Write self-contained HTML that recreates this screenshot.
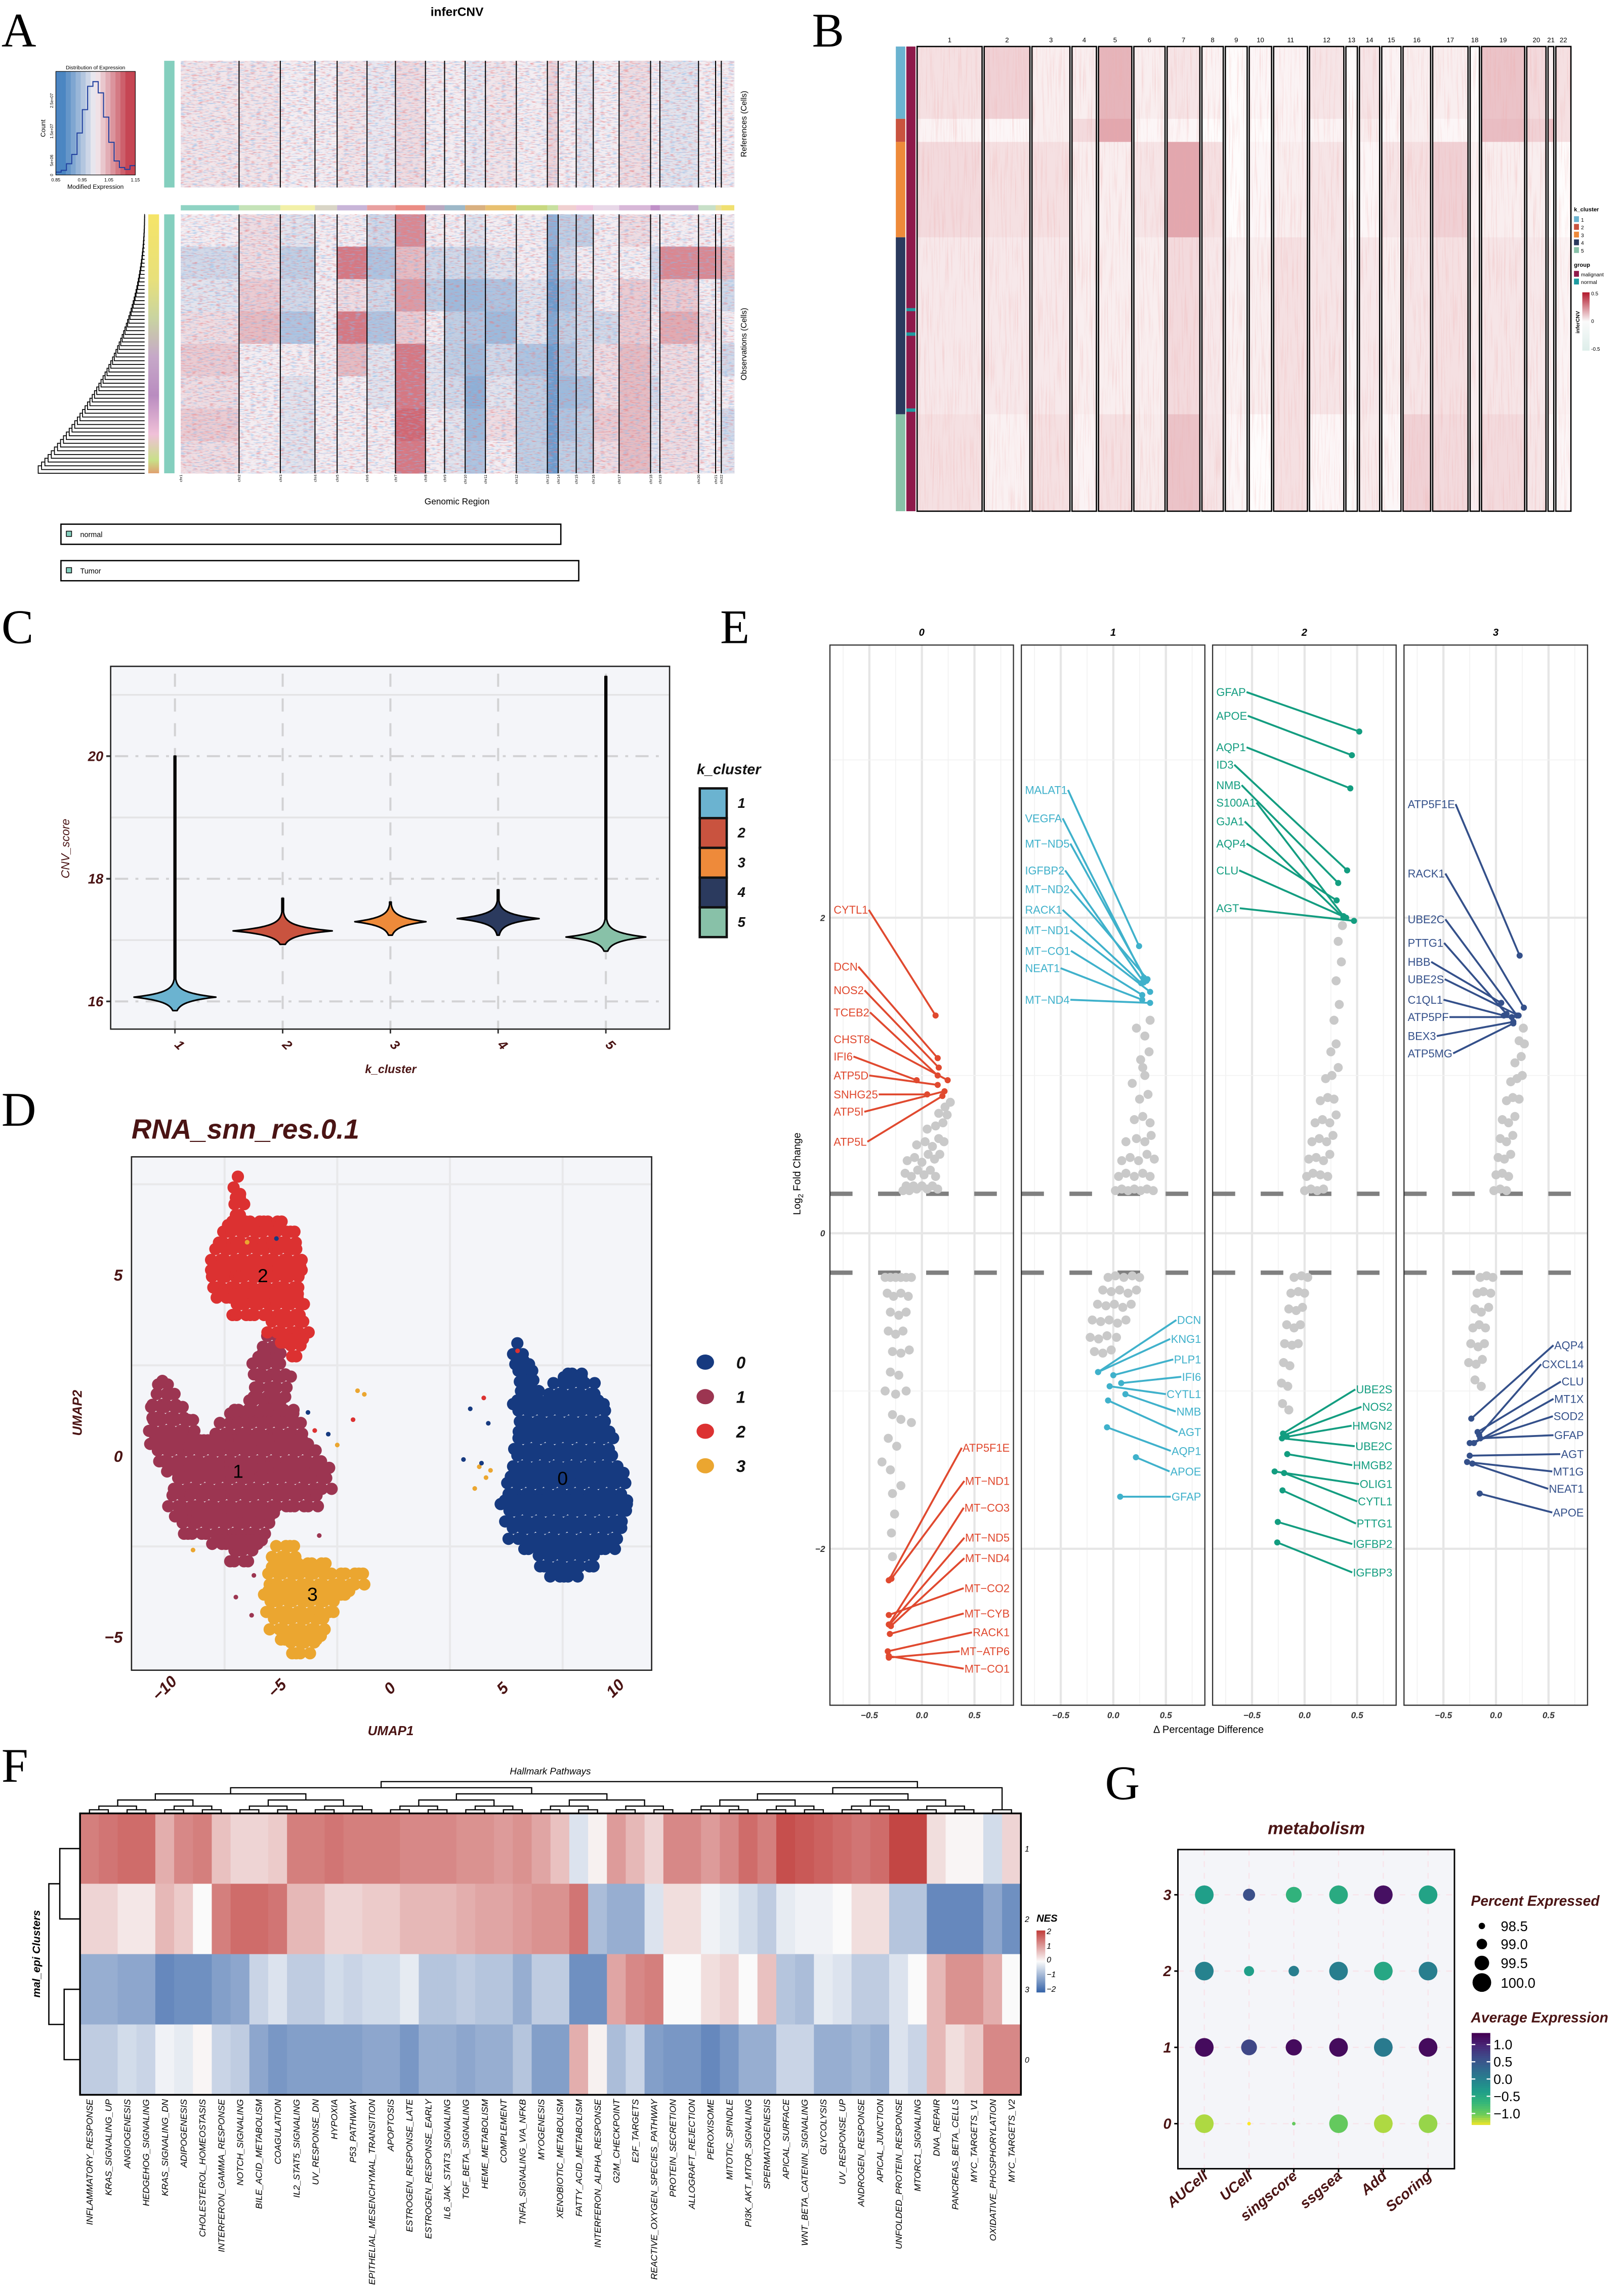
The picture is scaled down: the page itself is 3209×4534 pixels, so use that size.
<!DOCTYPE html>
<html><head><meta charset="utf-8">
<style>
html,body{margin:0;padding:0;background:#fff;}
svg{display:block;font-family:"Liberation Sans",sans-serif;}
.pl{font-family:"Liberation Serif",serif;font-size:33px;fill:#000;}
</style></head>
<body>
<svg id="fig" width="3209" height="4534" viewBox="0 0 1114 1574" xmlns="http://www.w3.org/2000/svg">
<defs>
<filter id="noiseA" x="0" y="0" width="100%" height="100%">
<feTurbulence type="fractalNoise" baseFrequency="0.25 1.1" numOctaves="2" seed="3" result="n"/>
<feColorMatrix in="n" type="matrix" values="0 0 0 0 0.78  0 0 0 0 0.2  0 0 0 0 0.22  3.5 0 0 0 -1.8" result="r"/>
<feColorMatrix in="n" type="matrix" values="0 0 0 0 0.25  0 0 0 0 0.5  0 0 0 0 0.82  0 3.5 0 0 -1.8" result="b"/>
<feMerge><feMergeNode in="r"/><feMergeNode in="b"/></feMerge>
</filter>
<filter id="noiseB" x="0" y="0" width="100%" height="100%">
<feTurbulence type="fractalNoise" baseFrequency="0.9 0.03" numOctaves="2" seed="7" result="n"/>
<feColorMatrix in="n" type="matrix" values="0 0 0 0 0.85  0 0 0 0 0.4  0 0 0 0 0.4  2.5 0 0 0 -1.2"/>
</filter>
</defs>
<rect x="0" y="0" width="1114" height="1574" fill="#fff"/>
<text class="pl" x="1" y="32">A</text>
<text class="pl" x="557" y="32">B</text>
<text class="pl" x="1" y="441">C</text>
<text class="pl" x="494" y="441">E</text>
<text class="pl" x="1" y="772">D</text>
<text class="pl" x="1" y="1222">F</text>
<text class="pl" x="758" y="1234">G</text>
</svg>
<script>
const NS='http://www.w3.org/2000/svg';
const svg=document.getElementById('fig');
function mk(p,tag,a,t){const e=document.createElementNS(NS,tag);for(const k in a)e.setAttribute(k,a[k]);if(t!==undefined)e.textContent=t;p.appendChild(e);return e;}
function grp(parent,name){const g=mk(parent,'g',{});


return g;}
const BROWN='#4A1414';
function chrNameA(i){return 'chr'+(i+1);}

/* ================= PANEL A DATA ================= */
const chrGenesA=[1000,708,595,380,513,488,515,328,353,348,530,533,185,310,293,443,540,160,663,293,98,223];
const refBand=[0.05,0.05,0,0,0.05,-0.05,0.1,0,0,-0.05,0.05,0,0.15,0,-0.05,0,0.1,0,-0.1,0,0,0];
const obsBands=[
[0,0.1,-0.1,0,0,-0.2,0.6,0,0,-0.1,0,0,-0.6,-0.3,-0.3,0,0.1,0,0,0,0,0],
[-0.2,0.1,-0.3,0,0.7,-0.4,0.3,-0.2,-0.2,-0.3,-0.1,0,-0.7,-0.2,0,0,0,-0.2,0.6,0.6,0.5,0.3],
[-0.1,0.2,-0.2,0,0.1,-0.2,0.5,-0.3,-0.5,-0.5,-0.4,-0.1,-0.8,-0.4,-0.2,0,0.2,-0.1,0.2,0,0,-0.2],
[0.1,0.3,-0.4,0,0.7,-0.4,0.2,0,-0.3,-0.4,-0.5,-0.1,-0.7,-0.3,-0.2,-0.2,0.2,0,0.4,0.1,0,0],
[0.2,0,0,0,0.3,-0.1,0.7,-0.1,-0.3,-0.5,-0.2,-0.4,-0.8,-0.4,-0.2,0.1,0.3,-0.1,0.1,0,0,-0.2],
[0.1,0,-0.1,0,0,-0.1,0.7,-0.1,-0.2,-0.6,-0.1,-0.3,-0.8,-0.5,-0.4,0.1,0.3,-0.2,0.1,0,0,0],
[0.2,0,-0.1,0,0,0,0.8,0,-0.1,-0.5,0.1,-0.3,-0.8,-0.4,-0.3,0.2,0.3,-0.1,0.1,0,0,-0.2],
[0.1,0,-0.1,0,0,0,0.7,0,-0.1,-0.4,0,-0.3,-0.8,-0.3,-0.3,0.1,0.3,-0.1,0.1,0,0,-0.1]];
const histBins=[0.85,0.87,0.89,0.91,0.93,0.95,0.97,0.99,1.01,1.03,1.05,1.07,1.09,1.11,1.13];
const histCounts=[0.03,0.05,0.12,0.22,0.45,0.7,0.95,1.0,0.88,0.62,0.35,0.15,0.08,0.06,0.1];
const chrBarColors=['#8FD3C3','#C5E3B8','#F2F0A8','#D9D5C6','#C8B5D8','#E8A0A0','#EB8C84','#B8A8C0','#9DB8C8','#D9B080','#E8C070','#C8D880','#C8E0A0','#F0D0D0','#F0C8E0','#E8D8E8','#D8B8D8','#C090C8','#C8B0D0','#C8E0C8','#E8E0A0','#F0E070'];

/* ================= PANEL A ================= */
(function(){
const g=grp(svg,'panel-a-infercnv');
const x0=124,x1=503.7;
const tot=chrGenesA.reduce((a,b)=>a+b,0);
const cx=i=>{let c=0;for(let k=0;k<i;k++)c+=chrGenesA[k];return x0+c/tot*(x1-x0);};
function div(v){v=Math.max(-1,Math.min(1,v));const w=[244,238,242],r=[190,40,55],b=[45,115,185];const t=Math.abs(v)*0.85;const c=v>=0?r:b;return 'rgb('+w.map((x,i)=>Math.round(x+(c[i]-x)*t)).join(',')+')';}
const t=mk(g,'text',{x:313.5,y:11,'text-anchor':'middle','font-size':8.5,'font-weight':'bold'},'inferCNV');


const ref=grp(g,'references-heatmap');
refBand.forEach((v,i)=>{const r=mk(ref,'rect',{x:cx(i),y:41.7,width:cx(i+1)-cx(i)+0.2,height:86.9,fill:div(v)});

});
const rn=mk(ref,'rect',{x:x0,y:41.7,width:x1-x0,height:86.9,fill:'#fff',filter:'url(#noiseA)',opacity:0.6});


const obs=grp(g,'observations-heatmap');
const oy0=147,oy1=324.6,bh=(oy1-oy0)/obsBands.length;
obsBands.forEach((row,b)=>row.forEach((v,i)=>{const r=mk(obs,'rect',{x:cx(i),y:oy0+b*bh,width:cx(i+1)-cx(i)+0.2,height:bh+0.2,fill:div(v)});

}));
const on=mk(obs,'rect',{x:x0,y:oy0,width:x1-x0,height:oy1-oy0,fill:'#fff',filter:'url(#noiseA)',opacity:0.6});


for(let i=0;i<22;i++){const r=mk(g,'rect',{x:cx(i),y:140.7,width:cx(i+1)-cx(i),height:3.6,fill:chrBarColors[i]});


if(i>0){[[41.7,128.6],[147,324.6]].forEach(s=>{const l=mk(g,'line',{x1:cx(i),x2:cx(i),y1:s[0],y2:s[1],stroke:'#000','stroke-width':0.7});

});}
const tl=mk(g,'text',{x:0,y:0,'font-size':2.6,'text-anchor':'end',transform:`translate(${cx(i)+1},325.5) rotate(-90)`},chrNameA(i));

}
const tb1=mk(g,'rect',{x:112.6,y:41.7,width:7.1,height:86.9,fill:'#84CFBE'});


const tb2=mk(g,'rect',{x:112.6,y:147,width:7.1,height:177.6,fill:'#84CFBE'});


const lg=mk(svg.querySelector('defs'),'linearGradient',{id:'gradDend',x1:0,y1:0,x2:0,y2:1});
[['0','#F5E468'],['0.25','#E8E07A'],['0.4','#C9D4A0'],['0.55','#C6A8C8'],['0.7','#B98CC0'],['0.85','#F0C0D8'],['0.95','#C8E088'],['1','#E0A070']].forEach(s=>mk(lg,'stop',{offset:s[0],'stop-color':s[1]}));
const gb=mk(g,'rect',{x:101.7,y:147,width:7.4,height:177.6,fill:'url(#gradDend)'});


const dg=grp(g,'observation-dendrogram');
const n=70;let yc=147,xp=99.2;
for(let k=1;k<n;k++){const yl=147+k*(177.6/(n-1));const xk=99.2-73*Math.pow(k/(n-1),2.2);
mk(dg,'path',{d:`M${xp},${yc}H${xk}V${yl}H99.2`,fill:'none',stroke:'#000','stroke-width':0.6});
yc=(yc+yl)/2;xp=xk;}
mk(dg,'line',{x1:25.9,x2:xp,y1:yc,y2:yc,stroke:'#000','stroke-width':0.6});
const kg=grp(g,'color-key');
for(let i=0;i<16;i++){const v=-1+i*2/15;mk(kg,'rect',{x:38.3+i*54.5/16,y:49,width:54.5/16+0.1,height:71,fill:div(v*1.15)});}
let d='';histCounts.forEach((c,i)=>{const xa=38.3+(histBins[i]-0.85)/0.3*54.5, xb=xa+54.5*0.02/0.3, y=120-c*64;d+=(i?'L':'M')+xa+','+y+'H'+xb;});
const hp=mk(kg,'path',{d:d,fill:'none',stroke:'#1F3E9E','stroke-width':0.7});


mk(kg,'rect',{x:38.3,y:49,width:54.5,height:71,fill:'none',stroke:'#000','stroke-width':0.4});
mk(kg,'text',{x:65.5,y:47.5,'font-size':3.6,'text-anchor':'middle'},'Distribution of Expression');
['0.85','0.95','1.05','1.15'].forEach((s,i)=>mk(kg,'text',{x:38.3+i*18.17,y:124.5,'font-size':3.2,'text-anchor':'middle'},s));
mk(kg,'text',{x:65.5,y:129.5,'font-size':4.3,'text-anchor':'middle'},'Modified Expression');
mk(kg,'text',{x:0,y:0,'font-size':4.5,'text-anchor':'middle',transform:'translate(31,88) rotate(-90)'},'Count');
[['0',120],['5e+06',110],['1.5e+07',90],['2.5e+07',69]].forEach(s=>mk(kg,'text',{x:0,y:0,'font-size':2.8,'text-anchor':'middle',transform:`translate(36.5,${s[1]}) rotate(-90)`},s[0]));
const gr=mk(g,'text',{x:313.5,y:346,'font-size':6,'text-anchor':'middle'},'Genomic Region');


const r1=mk(g,'text',{x:0,y:0,'font-size':5.5,'text-anchor':'middle',transform:'translate(512,85) rotate(-90)'},'References (Cells)');


const r2=mk(g,'text',{x:0,y:0,'font-size':5.5,'text-anchor':'middle',transform:'translate(512,236) rotate(-90)'},'Observations (Cells)');


[['normal',359.5,384.7],['Tumor',384.5,397]].forEach(s=>{const lgp=grp(g,'legend-'+s[0].toLowerCase());
mk(lgp,'rect',{x:41.8,y:s[1],width:s[2]-41.8,height:13.8,fill:'none',stroke:'#000','stroke-width':0.9});
mk(lgp,'rect',{x:45.5,y:s[1]+4.8,width:3.6,height:3.6,fill:'#84CFBE',stroke:'#000','stroke-width':0.5});
mk(lgp,'text',{x:55,y:s[1]+8.8,'font-size':5},s[0]);});
})();

/* ================= PANEL B DATA ================= */
const chrGenesB=[1000,704,584,376,512,480,504,328,336,344,520,528,176,312,296,424,544,144,664,296,88,232];
const clusterCells=[470,150,620,1150,630];
const normalCellRanges=[[1700,1720],[1858,1880],[2352,2374]];
const bBands=[
[0.1,0.15,0.05,0.05,0.25,0.05,0.08,0.03,0,0.02,0.03,0.08,0,0.08,0.03,0.05,0.05,0,0.2,0.12,0.05,0.1],
[0.03,0.02,0.05,0.12,0.3,0.02,0.02,0,0,0,0.03,0.03,0,0.05,0.02,0.05,0.02,0,0.22,0.15,0.2,0.1],
[0.12,0.1,0.1,0.05,0.05,0.08,0.3,0.1,0,0.02,0.05,0.08,0,0.02,0.08,0.1,0.15,0.03,0.05,0.05,0,0],
[0.07,0.07,0.07,0.05,0.05,0.05,0.12,0.07,0.04,0.05,0.1,0.08,0.02,0.07,0.05,0.08,0.1,0.05,0.08,0.07,0.03,0.03],
[0.1,0.04,0.1,0.03,0.1,0.06,0.2,0.08,0.02,0,0.1,0.02,0,0.06,0.02,0.15,0.12,0.05,0.12,0.08,0,0.02]];
const kColors=['#6BB3D0','#C9533F','#EE8A3A','#2B3A5E','#88C1A8'];

/* ================= PANEL B ================= */
(function(){
const g=grp(svg,'panel-b-cnv-heatmap');
const X0=629.1,X1=1077.6,gap=1.42,Y0=31.9,Y1=350.6;
const tot=chrGenesB.reduce((a,b)=>a+b,0);const avail=X1-X0-gap*21;
const bx=i=>{let c=0;for(let k=0;k<i;k++)c+=chrGenesB[k];return X0+c/tot*avail+i*gap;};
const bw=i=>chrGenesB[i]/tot*avail;
const totC=clusterCells.reduce((a,b)=>a+b,0);
const cy=c=>Y0+c/totC*(Y1-Y0);
const red=v=>{const t=Math.max(0,Math.min(1,v/0.8));return `rgb(${Math.round(254-(254-178)*t)},${Math.round(252-(252-24)*t)},${Math.round(252-(252-43)*t)})`;};
let acc=0;
clusterCells.forEach((n,c)=>{const ya=cy(acc),yb=cy(acc+n);
const kb=mk(g,'rect',{x:614.5,y:ya,width:6.5,height:yb-ya,fill:kColors[c]});


for(let i=0;i<22;i++){const r=mk(g,'rect',{x:bx(i),y:ya,width:bw(i),height:yb-ya+0.1,fill:red(bBands[c][i])});

}
acc+=n;});
const grpBar=mk(g,'rect',{x:621.7,y:Y0,width:6.3,height:Y1-Y0,fill:'#8E1A4B'});


normalCellRanges.forEach(r=>{const e=mk(g,'rect',{x:621.7,y:cy(r[0]),width:6.3,height:cy(r[1])-cy(r[0]),fill:'#1E9BA0'});

});
for(let i=0;i<22;i++){const tx=mk(g,'rect',{x:bx(i),y:Y0,width:bw(i),height:Y1-Y0,fill:'#fff',filter:'url(#noiseB)',opacity:0.35});


const bo=mk(g,'rect',{x:bx(i),y:Y0,width:bw(i),height:Y1-Y0,fill:'none',stroke:'#000','stroke-width':0.9});


const l=mk(g,'text',{x:bx(i)+bw(i)/2,y:29,'font-size':4.6,'text-anchor':'middle'},String(i+1));

}
const lg=grp(g,'b-legend');
mk(lg,'text',{x:1079.7,y:145,'font-size':3.9,'font-weight':'bold'},'k_cluster');
kColors.forEach((c,i)=>{mk(lg,'rect',{x:1079.7,y:148.3+i*5.3,width:3.4,height:4,fill:c});mk(lg,'text',{x:1084.5,y:152+i*5.3,'font-size':3.6},String(i+1));});
mk(lg,'text',{x:1079.7,y:183,'font-size':3.9,'font-weight':'bold'},'group');
mk(lg,'rect',{x:1079.7,y:185.8,width:3.4,height:4,fill:'#8E1A4B'});mk(lg,'text',{x:1084.5,y:189.5,'font-size':3.6},'malignant');
mk(lg,'rect',{x:1079.7,y:191.1,width:3.4,height:4,fill:'#1E9BA0'});mk(lg,'text',{x:1084.5,y:194.8,'font-size':3.6},'normal');
const gd=mk(svg.querySelector('defs'),'linearGradient',{id:'gradB',x1:0,y1:0,x2:0,y2:1});
[['0','#B2182B'],['0.5','#FAFAFA'],['1','#DDEEEA']].forEach(s=>mk(gd,'stop',{offset:s[0],'stop-color':s[1]}));
mk(lg,'rect',{x:1085.4,y:200.5,width:5,height:40,fill:'url(#gradB)'});
[['0.5',202.5],['0',221.5],['-0.5',240.5]].forEach(s=>mk(lg,'text',{x:1091.5,y:s[1],'font-size':3.5},s[0]));
mk(lg,'text',{x:0,y:0,'font-size':3.6,'font-weight':'bold','text-anchor':'middle',transform:'translate(1083.5,221) rotate(-90)'},'inferCNV');
})();

/* ================= PANEL C DATA ================= */
const cnvClusters=['1','2','3','4','5'];
const cnvMedian=[16.07,17.15,17.3,17.35,17.05];
const cnvMin=[15.85,16.93,17.08,17.08,16.82];
const cnvMax=[20.0,17.68,17.62,17.82,21.3];
const cnvPeakWidth=[0.38,0.46,0.33,0.38,0.37];
const cnvTicks=[16,18,20];

/* ================= PANEL C ================= */
(function(){
const g=grp(svg,'panel-c-cnv-violin');
const L=75.9,R=459.3,T=457,B=705.8;
const ys=v=>686.8-(v-16)*42.05;
const xs=i=>120+i*73.9;
const bg=mk(g,'rect',{x:L,y:T,width:R-L,height:B-T,fill:'#F4F5F9'});


const gg=grp(g,'gridlines');
[17,19,21].forEach(v=>mk(gg,'line',{x1:L,x2:R,y1:ys(v),y2:ys(v),stroke:'#E4E4E6','stroke-width':1.2}));
cnvTicks.forEach(v=>mk(gg,'line',{x1:L+3,x2:R-3,y1:ys(v),y2:ys(v),stroke:'#D2D2D4','stroke-width':1.4,'stroke-dasharray':'9 5 2 5'}));
cnvClusters.forEach((c,i)=>mk(gg,'line',{x1:xs(i),x2:xs(i),y1:T+5,y2:B,stroke:'#D2D2D4','stroke-width':1.4,'stroke-dasharray':'9 8'}));
cnvClusters.forEach((c,i)=>{
 const m=cnvMedian[i],s=0.075,W=cnvPeakWidth[i]*73.9;const right=[],left=[];
 for(let y=cnvMin[i];y<=cnvMax[i]+1e-9;y+=0.005){const w=Math.max(0.55,W*Math.exp(-Math.abs(y-m)/s));right.push([xs(i)+w,ys(y)]);left.unshift([xs(i)-w,ys(y)]);}
 const pts=right.concat(left).map(p=>p[0].toFixed(2)+','+p[1].toFixed(2)).join(' ');
 const v=mk(g,'polygon',{points:pts,fill:kColors[i],stroke:'#000','stroke-width':1.1,'stroke-linejoin':'round'});
 
 
 mk(g,'line',{x1:xs(i),x2:xs(i),y1:B,y2:B+3,stroke:'#333','stroke-width':1});
 const tl=mk(g,'text',{x:0,y:0,'font-size':9,'font-weight':'bold','font-style':'italic',fill:BROWN,'text-anchor':'middle',transform:`translate(${xs(i)+1},${B+13}) rotate(45)`},c);
 
 
});
cnvTicks.forEach(v=>{mk(g,'line',{x1:L-3,x2:L,y1:ys(v),y2:ys(v),stroke:'#333','stroke-width':1.2});
 const t=mk(g,'text',{x:L-5,y:ys(v)+3.3,'font-size':9.5,'font-weight':'bold','font-style':'italic',fill:BROWN,'text-anchor':'end'},String(v));
 
 });
mk(g,'rect',{x:L,y:T,width:R-L,height:B-T,fill:'none',stroke:'#222','stroke-width':0.9});
const xt=mk(g,'text',{x:268,y:736,'font-size':8,'font-weight':'bold','font-style':'italic',fill:BROWN,'text-anchor':'middle'},'k_cluster');


const yt=mk(g,'text',{x:0,y:0,'font-size':8,'font-style':'italic',fill:BROWN,'text-anchor':'middle',transform:'translate(47.5,582) rotate(-90)'},'CNV_score');


const lg=grp(g,'legend-k-cluster');
mk(lg,'text',{x:478,y:531,'font-size':10,'font-weight':'bold','font-style':'italic',fill:'#111'},'k_cluster');
kColors.forEach((c,i)=>{mk(lg,'rect',{x:480,y:540.7+i*20.4,width:18.5,height:20.4,fill:c,stroke:'#111','stroke-width':1.6});
mk(lg,'text',{x:506,y:554+i*20.4,'font-size':9.5,'font-weight':'bold','font-style':'italic',fill:'#111'},String(i+1));});
})();

/* ================= PANEL D DATA ================= */
const umapClusters=['0','1','2','3'];
const umapColors=['#163A80','#9C3551','#DC3131','#EBA630'];
const cluster0Rows=[[3.0,5.4,5.7],[2.6,5.4,6.0],[2.2,5.5,6.2],[2.2,7.6,8.5],[1.9,5.6,6.5],[1.9,7.0,9.0],[1.5,5.3,9.3],[1.1,5.5,9.5],[0.7,5.6,9.6],[0.3,5.3,9.7],[-0.1,5.4,9.9],[-0.5,5.2,10.2],[-0.9,5.0,10.3],[-1.3,4.8,10.5],[-1.7,4.9,10.4],[-2.1,5.2,10.2],[-2.5,5.8,9.8],[-2.9,6.4,9.0],[-3.3,7.0,8.2]];
const cluster1Rows=[[3.2,-5.7,-5.1],[2.8,-6.0,-4.9],[2.4,-6.3,-4.8],[2.0,-10.4,-10.0],[2.0,-6.2,-4.6],[1.6,-10.6,-9.6],[1.6,-6.4,-4.8],[1.2,-10.8,-9.2],[1.2,-7.2,-4.4],[0.8,-10.9,-8.8],[0.8,-7.8,-3.9],[0.4,-10.8,-3.7],[0.0,-10.5,-3.2],[-0.4,-10.0,-2.8],[-0.8,-9.8,-2.8],[-1.2,-9.9,-3.3],[-1.6,-9.7,-5.3],[-2.0,-9.4,-5.6],[-2.4,-8.0,-5.8],[-2.8,-7.3,-6.3]];
const cluster2Rows=[[7.6,-7.0,-6.8],[7.2,-7.0,-6.7],[6.8,-7.1,-6.6],[6.4,-7.3,-4.9],[6.0,-7.8,-4.3],[5.6,-8.0,-4.0],[5.2,-8.1,-4.0],[4.8,-8.1,-4.1],[4.4,-7.8,-4.1],[4.0,-7.2,-3.9],[3.6,-5.5,-3.8],[3.2,-5.0,-3.9],[2.9,-4.6,-4.1]];
const cluster3Rows=[[-2.6,-5.3,-4.2],[-3.0,-5.4,-3.0],[-3.4,-5.6,-1.2],[-3.8,-5.7,-1.8],[-4.2,-5.7,-2.6],[-4.6,-5.4,-2.9],[-5.0,-5.0,-3.1],[-5.3,-4.6,-3.5]];
const umapOutliers=[[-1.6,1.8,3],[-1.3,1.7,3],[-6.5,5.9,3],[-5.2,6.0,0],[3.8,-0.3,3],[4.1,-0.6,3],[4.3,-0.4,3],[3.6,-0.9,3],[5.5,2.9,2],[4.0,1.6,2],[-3.8,1.2,0],[-2.9,0.6,0],[-2.5,0.3,3],[-1.8,1.0,2],[3.1,-0.1,0],[3.4,1.3,0],[-3.5,0.7,2],[4.2,0.9,0],[3.9,-0.2,0],[-6.2,-3.3,1],[-7.0,-3.9,1],[-6.3,-4.4,1],[-8.9,-2.6,3],[-3.3,-2.2,1]];
const umapLabelPos=[[7.5,-0.6],[-6.9,-0.4],[-5.8,5.0],[-3.6,-3.8]];
const umapXTicks=[-10,-5,0,5,10];
const umapYTicks=[-5,0,5];

/* ================= PANEL D ================= */
(function(){
const g=grp(svg,'panel-d-umap');
const L=90.2,R=447,T=793.4,B=1145.5;
const xs=v=>115.4+(v+10)*15.46;
const ys=v=>998.5-v*24.84;
const bg=mk(g,'rect',{x:L,y:T,width:R-L,height:B-T,fill:'#F4F5F9'});


const gg=grp(g,'gridlines');
[-7.5,-2.5,2.5,7.5].forEach(v=>mk(gg,'line',{x1:xs(v),x2:xs(v),y1:T,y2:B,stroke:'#E8E8EA','stroke-width':1.4}));
[-2.5,2.5,7.5].forEach(v=>mk(gg,'line',{x1:L,x2:R,y1:ys(v),y2:ys(v),stroke:'#E8E8EA','stroke-width':1.4}));
const title=mk(g,'text',{x:90.2,y:781,'font-size':19,'font-weight':'bold','font-style':'italic',fill:BROWN},'RNA_snn_res.0.1');


const rowsets=[cluster0Rows,cluster1Rows,cluster2Rows,cluster3Rows];
rowsets.forEach((rows,c)=>{const cg=grp(g,'umap-cluster-'+c);
 rows.forEach((row,ri)=>{[-0.11,0.11].forEach((off,si)=>{let j=0;for(let x=row[1]+(si?0.14:0);x<=row[2]+1e-9;x+=0.28){const jx=(((ri*7+j*3+si)%5)-2)*0.05,jy=(((ri*3+j*5+si*2)%5)-2)*0.04;
  const p=mk(cg,'circle',{cx:xs(x+jx),cy:ys(row[0]+off+jy),r:4.2,fill:umapColors[c]});
  
  j++;}});});});
umapOutliers.forEach(o=>{const p=mk(g,'circle',{cx:xs(o[0]),cy:ys(o[1]),r:1.6,fill:umapColors[o[2]]});
 
 });
umapLabelPos.forEach((p,i)=>{const t=mk(g,'text',{x:xs(p[0]),y:ys(p[1])+5,'font-size':13,'text-anchor':'middle',fill:'#000'},umapClusters[i]);
 
 });
mk(g,'rect',{x:L,y:T,width:R-L,height:B-T,fill:'none',stroke:'#222','stroke-width':0.9});
umapXTicks.forEach(v=>{const t=mk(g,'text',{x:0,y:0,'font-size':11,'font-weight':'bold','font-style':'italic',fill:BROWN,'text-anchor':'middle',transform:`translate(${xs(v)},${B+15}) rotate(-45)`},String(v).replace('-','\u2212'));
 
 });
umapYTicks.forEach(v=>{const t=mk(g,'text',{x:L-6,y:ys(v)+4,'font-size':11,'font-weight':'bold','font-style':'italic',fill:BROWN,'text-anchor':'end'},String(v).replace('-','\u2212'));
 
 });
const xt=mk(g,'text',{x:268,y:1190,'font-size':9,'font-weight':'bold','font-style':'italic',fill:BROWN,'text-anchor':'middle'},'UMAP1');


const yt=mk(g,'text',{x:0,y:0,'font-size':9,'font-weight':'bold','font-style':'italic',fill:BROWN,'text-anchor':'middle',transform:'translate(56,969) rotate(-90)'},'UMAP2');


const lg=grp(g,'umap-legend');
umapClusters.forEach((c,i)=>{mk(lg,'ellipse',{cx:483.8,cy:934.2+i*23.7,rx:6,ry:5.2,fill:umapColors[i]});
mk(lg,'text',{x:505,y:938.5+i*23.7,'font-size':11.5,'font-weight':'bold','font-style':'italic',fill:'#111'},c);});
})();

/* ================= PANEL E DATA ================= */
const facetNames=['0','1','2','3'];
const facetColors=['#E0492F','#3FB1CB','#139D80','#34508A'];
const upGenes=[
['CYTL1','DCN','NOS2','TCEB2','CHST8','IFI6','ATP5D','SNHG25','ATP5I','ATP5L'],
['MALAT1','VEGFA','MT\u2212ND5','IGFBP2','MT\u2212ND2','RACK1','MT\u2212ND1','MT\u2212CO1','NEAT1','MT\u2212ND4'],
['GFAP','APOE','AQP1','ID3','NMB','S100A1','GJA1','AQP4','CLU','AGT'],
['ATP5F1E','RACK1','UBE2C','PTTG1','HBB','UBE2S','C1QL1','ATP5PF','BEX3','ATP5MG']];
const upPct=[[0.13,0.15,0.16,0.15,0.245,-0.05,0.15,0.05,0.215,0.195],[0.245,0.29,0.315,0.29,0.325,0.265,0.35,0.275,0.275,0.35],[0.52,0.45,0.435,0.405,0.32,0.37,0.37,0.305,0.395,0.47],[0.225,0.265,0.2,0.1,0.05,0.215,0.075,0.15,0.165,0.165]];
const upFC=[[1.38,1.11,1.05,1.0,0.97,0.97,0.94,0.88,0.9,0.87],[1.82,1.62,1.6,1.59,1.61,1.585,1.53,1.51,1.48,1.46],[3.18,3.03,2.82,2.3,2.22,2.01,2.0,2.11,2.0,1.98],[1.76,1.43,1.38,1.39,1.46,1.38,1.38,1.37,1.34,1.33]];
const upLabelFC=[[2.05,1.69,1.54,1.40,1.23,1.12,1.0,0.88,0.77,0.58],[2.81,2.63,2.47,2.30,2.18,2.05,1.92,1.79,1.68,1.48],[3.43,3.28,3.08,2.97,2.84,2.73,2.61,2.47,2.30,2.06],[2.72,2.28,1.99,1.84,1.72,1.61,1.48,1.37,1.25,1.14]];
const downGenes=[
['ATP5F1E','MT\u2212ND1','MT\u2212CO3','MT\u2212ND5','MT\u2212ND4','MT\u2212CO2','MT\u2212CYB','RACK1','MT\u2212ATP6','MT\u2212CO1'],
['DCN','KNG1','PLP1','IFI6','CYTL1','NMB','AGT','AQP1','APOE','GFAP'],
['UBE2S','NOS2','HMGN2','UBE2C','HMGB2','OLIG1','CYTL1','PTTG1','IGFBP2','IGFBP3'],
['AQP4','CXCL14','CLU','MT1X','SOD2','GFAP','AGT','MT1G','NEAT1','APOE']];
const downPct=[[-0.315,-0.29,-0.315,-0.305,-0.295,-0.315,-0.305,-0.325,-0.315,-0.315],[-0.145,-0.145,0,0.075,-0.035,0.115,-0.05,-0.06,0.215,0.065],[-0.205,-0.195,-0.17,-0.215,-0.165,-0.285,-0.195,-0.21,-0.255,-0.26],[-0.235,-0.16,-0.175,-0.21,-0.25,-0.15,-0.25,-0.275,-0.225,-0.155]];
const downFC=[[-2.2,-2.19,-2.48,-2.48,-2.49,-2.42,-2.54,-2.65,-2.69,-2.68],[-0.88,-0.88,-0.9,-0.95,-0.97,-1.02,-1.06,-1.23,-1.42,-1.67],[-1.27,-1.28,-1.29,-1.3,-1.4,-1.51,-1.52,-1.63,-1.83,-1.96],[-1.175,-1.28,-1.26,-1.33,-1.33,-1.3,-1.41,-1.45,-1.46,-1.65]];
const downLabelFC=[[-1.36,-1.57,-1.74,-1.93,-2.06,-2.25,-2.41,-2.53,-2.65,-2.76],[-0.55,-0.67,-0.80,-0.91,-1.02,-1.13,-1.26,-1.38,-1.51,-1.67],[-0.99,-1.10,-1.22,-1.35,-1.47,-1.59,-1.70,-1.84,-1.97,-2.15],[-0.71,-0.83,-0.94,-1.05,-1.16,-1.28,-1.40,-1.51,-1.62,-1.77]];
const bgUp=[
[[-0.18,0.27],[-0.15,0.3],[-0.12,0.27],[-0.08,0.3],[-0.05,0.28],[0,0.3],[0.05,0.28],[0.1,0.3],[0.15,0.28],[-0.16,0.38],[-0.1,0.36],[-0.04,0.4],[0.02,0.37],[0.08,0.4],[0.13,0.36],[-0.14,0.46],[-0.07,0.48],[0,0.45],[0.06,0.5],[0.12,0.47],[0.17,0.5],[-0.05,0.56],[0.03,0.58],[0.1,0.55],[0.16,0.6],[0.21,0.58],[0.05,0.66],[0.13,0.68],[0.2,0.7],[0.24,0.75],[0.16,0.76],[0.27,0.83],[0.22,0.8]],
[[0.02,0.27],[0.08,0.28],[0.14,0.27],[0.2,0.28],[0.26,0.27],[0.32,0.28],[0.38,0.27],[0.05,0.36],[0.12,0.38],[0.2,0.36],[0.28,0.38],[0.35,0.36],[0.08,0.46],[0.16,0.48],[0.24,0.46],[0.32,0.5],[0.39,0.47],[0.12,0.58],[0.22,0.6],[0.3,0.58],[0.36,0.62],[0.2,0.72],[0.28,0.74],[0.35,0.7],[0.25,0.85],[0.33,0.88],[0.18,0.95],[0.3,1.0],[0.26,1.1],[0.34,1.15],[0.3,1.25],[0.22,1.3],[0.35,1.35],[0.28,1.05]],
[[0.0,0.27],[0.06,0.28],[0.12,0.27],[0.18,0.28],[0.02,0.36],[0.08,0.38],[0.15,0.37],[0.22,0.36],[0.04,0.47],[0.11,0.48],[0.18,0.46],[0.24,0.5],[0.07,0.58],[0.14,0.6],[0.21,0.58],[0.27,0.62],[0.1,0.7],[0.17,0.72],[0.24,0.7],[0.3,0.75],[0.15,0.84],[0.22,0.86],[0.28,0.85],[0.2,0.98],[0.26,1.0],[0.32,1.05],[0.25,1.15],[0.3,1.2],[0.28,1.35],[0.33,1.45],[0.3,1.6],[0.35,1.72],[0.32,1.85],[0.36,1.95]],
[[-0.02,0.27],[0.04,0.28],[0.1,0.27],[0.0,0.37],[0.06,0.38],[0.12,0.36],[0.02,0.48],[0.08,0.47],[0.14,0.5],[0.04,0.6],[0.1,0.58],[0.16,0.62],[0.06,0.72],[0.12,0.7],[0.18,0.74],[0.1,0.84],[0.16,0.86],[0.22,0.85],[0.14,0.96],[0.2,0.98],[0.25,1.0],[0.18,1.08],[0.24,1.12],[0.27,1.2],[0.22,1.22],[0.26,1.3]]];
const bgDown=[
[[-0.35,-0.28],[-0.3,-0.28],[-0.25,-0.28],[-0.2,-0.28],[-0.15,-0.28],[-0.1,-0.28],[-0.33,-0.38],[-0.27,-0.4],[-0.2,-0.38],[-0.13,-0.4],[-0.3,-0.5],[-0.22,-0.52],[-0.15,-0.5],[-0.32,-0.62],[-0.25,-0.64],[-0.18,-0.62],[-0.28,-0.75],[-0.2,-0.76],[-0.12,-0.74],[-0.3,-0.88],[-0.22,-0.9],[-0.35,-1.0],[-0.25,-1.02],[-0.15,-1.0],[-0.28,-1.15],[-0.2,-1.18],[-0.1,-1.2],[-0.32,-1.3],[-0.24,-1.35],[-0.38,-1.45],[-0.3,-1.5],[-0.28,-1.65],[-0.2,-1.6],[-0.29,-1.9],[-0.28,-2.05],[-0.26,-1.78]],
[[-0.05,-0.28],[0.02,-0.27],[0.1,-0.28],[0.18,-0.27],[0.25,-0.28],[-0.1,-0.36],[-0.02,-0.37],[0.06,-0.36],[0.14,-0.38],[0.22,-0.36],[-0.15,-0.45],[-0.07,-0.46],[0.01,-0.45],[0.09,-0.47],[0.17,-0.45],[-0.2,-0.55],[-0.12,-0.56],[-0.04,-0.55],[0.04,-0.57],[0.12,-0.55],[-0.22,-0.66],[-0.14,-0.67],[-0.06,-0.65],[0.03,-0.66],[-0.18,-0.75],[-0.1,-0.76],[-0.02,-0.74]],
[[-0.1,-0.28],[-0.03,-0.27],[0.03,-0.28],[-0.13,-0.38],[-0.06,-0.37],[0.0,-0.38],[-0.15,-0.48],[-0.08,-0.49],[-0.02,-0.47],[-0.17,-0.58],[-0.1,-0.6],[-0.04,-0.58],[-0.19,-0.7],[-0.12,-0.71],[-0.06,-0.7],[-0.2,-0.82],[-0.14,-0.84],[-0.22,-0.95],[-0.16,-0.97],[-0.21,-1.08],[-0.15,-1.12]],
[[-0.15,-0.28],[-0.09,-0.27],[-0.03,-0.28],[-0.18,-0.38],[-0.12,-0.37],[-0.05,-0.38],[-0.2,-0.48],[-0.14,-0.5],[-0.07,-0.47],[-0.22,-0.6],[-0.16,-0.58],[-0.1,-0.6],[-0.24,-0.7],[-0.17,-0.72],[-0.11,-0.7],[-0.26,-0.82],[-0.19,-0.83],[-0.13,-0.8],[-0.2,-0.93],[-0.14,-0.97]]];
const eXTicks=[-0.5,0,0.5];
const eYTicks=[-2,0,2];
const fcThreshold=0.25;

/* ================= PANEL E ================= */
(function(){
const g=grp(svg,'panel-e-volcano-facets');
const lefts=[569.3,700.6,831.8,963.1],W=125.9,T=442.4,B=1169.5;
const ys=v=>845.8-v*108.2;
facetNames.forEach((fn,f)=>{
 const fg=grp(g,'facet-'+fn);
 const xs=v=>lefts[f]+63.1+v*72.1;
 [-0.75,-0.25,0.25,0.75].forEach(v=>mk(fg,'line',{x1:xs(v),x2:xs(v),y1:T,y2:B,stroke:'#F2F2F2','stroke-width':0.6}));
 eXTicks.forEach(v=>mk(fg,'line',{x1:xs(v),x2:xs(v),y1:T,y2:B,stroke:'#E6E6E6','stroke-width':1.5}));
 [-3,-1,1,3].forEach(v=>mk(fg,'line',{x1:lefts[f],x2:lefts[f]+W,y1:ys(v),y2:ys(v),stroke:'#F2F2F2','stroke-width':0.6}));
 eYTicks.forEach(v=>mk(fg,'line',{x1:lefts[f],x2:lefts[f]+W,y1:ys(v),y2:ys(v),stroke:'#E6E6E6','stroke-width':1.5}));
 [fcThreshold,-fcThreshold].forEach(v=>{const l=mk(fg,'line',{x1:lefts[f],x2:lefts[f]+W,y1:ys(v),y2:ys(v),stroke:'#808080','stroke-width':3,'stroke-dasharray':'15.5 17.5'});
  
  });
 bgUp[f].concat(bgDown[f]).forEach(p=>{const c=mk(fg,'circle',{cx:xs(p[0]),cy:ys(p[1]),r:3.1,fill:'#C9C9C9'});
  
  });
 const col=facetColors[f];
 upGenes[f].forEach((gn,i)=>{
  const t=mk(fg,'text',{x:xs(-0.84),y:ys(upLabelFC[f][i])+2.7,'font-size':7.6,fill:col},gn);
  
  
  const tw=t.getComputedTextLength?t.getComputedTextLength():gn.length*4.5;
  const l=mk(fg,'line',{x1:xs(-0.84)+tw+0.5,y1:ys(upLabelFC[f][i]),x2:xs(upPct[f][i]),y2:ys(upFC[f][i]),stroke:col,'stroke-width':1.3});
  
  
  const c=mk(fg,'circle',{cx:xs(upPct[f][i]),cy:ys(upFC[f][i]),r:2.1,fill:col});
  
  });
 downGenes[f].forEach((gn,i)=>{
  const t=mk(fg,'text',{x:xs(0.835),y:ys(downLabelFC[f][i])+2.7,'font-size':7.6,fill:col,'text-anchor':'end'},gn);
  
  
  const tw=t.getComputedTextLength?t.getComputedTextLength():gn.length*4.5;
  const l=mk(fg,'line',{x1:xs(0.835)-tw-0.5,y1:ys(downLabelFC[f][i]),x2:xs(downPct[f][i]),y2:ys(downFC[f][i]),stroke:col,'stroke-width':1.3});
  
  
  const c=mk(fg,'circle',{cx:xs(downPct[f][i]),cy:ys(downFC[f][i]),r:2.1,fill:col});
  
  });
 mk(fg,'rect',{x:lefts[f],y:T,width:W,height:B-T,fill:'none',stroke:'#333','stroke-width':0.8});
 const st=mk(fg,'text',{x:lefts[f]+W/2,y:436,'font-size':7,'font-weight':'bold','font-style':'italic','text-anchor':'middle'},fn);
 
 
 eXTicks.forEach(v=>{const t=mk(fg,'text',{x:xs(v),y:1178.5,'font-size':6,'font-weight':'bold','font-style':'italic','text-anchor':'middle',fill:'#333'},(v<0?'\u22120.5':v.toFixed(1)));
  
  });
});
eYTicks.forEach(v=>{const t=mk(g,'text',{x:566,y:ys(v)+2.2,'font-size':6,'font-weight':'bold','font-style':'italic','text-anchor':'end',fill:'#333'},String(v).replace('-','\u2212'));
 
 });
const xt=mk(g,'text',{x:829,y:1188.5,'font-size':7,'text-anchor':'middle'},'\u0394 Percentage Difference');


const yt=mk(g,'text',{x:0,y:0,'font-size':7,'text-anchor':'middle',transform:'translate(549,805) rotate(-90)'});


yt.appendChild(document.createTextNode('Log'));
mk(yt,'tspan',{'font-size':5,dy:2},'2');
mk(yt,'tspan',{dy:-2},' Fold Change');
})();

/* ================= PANEL F DATA ================= */
const pathways=['INFLAMMATORY_RESPONSE','KRAS_SIGNALING_UP','ANGIOGENESIS','HEDGEHOG_SIGNALING','KRAS_SIGNALING_DN','ADIPOGENESIS','CHOLESTEROL_HOMEOSTASIS','INTERFERON_GAMMA_RESPONSE','NOTCH_SIGNALING','BILE_ACID_METABOLISM','COAGULATION','IL2_STAT5_SIGNALING','UV_RESPONSE_DN','HYPOXIA','P53_PATHWAY','EPITHELIAL_MESENCHYMAL_TRANSITION','APOPTOSIS','ESTROGEN_RESPONSE_LATE','ESTROGEN_RESPONSE_EARLY','IL6_JAK_STAT3_SIGNALING','TGF_BETA_SIGNALING','HEME_METABOLISM','COMPLEMENT','TNFA_SIGNALING_VIA_NFKB','MYOGENESIS','XENOBIOTIC_METABOLISM','FATTY_ACID_METABOLISM','INTERFERON_ALPHA_RESPONSE','G2M_CHECKPOINT','E2F_TARGETS','REACTIVE_OXYGEN_SPECIES_PATHWAY','PROTEIN_SECRETION','ALLOGRAFT_REJECTION','PEROXISOME','MITOTIC_SPINDLE','PI3K_AKT_MTOR_SIGNALING','SPERMATOGENESIS','APICAL_SURFACE','WNT_BETA_CATENIN_SIGNALING','GLYCOLYSIS','UV_RESPONSE_UP','ANDROGEN_RESPONSE','APICAL_JUNCTION','UNFOLDED_PROTEIN_RESPONSE','MTORC1_SIGNALING','DNA_REPAIR','PANCREAS_BETA_CELLS','MYC_TARGETS_V1','OXIDATIVE_PHOSPHORYLATION','MYC_TARGETS_V2'];
const nesRowLabels=['1','2','3','0'];
const nesRow1=[1.3,1.4,1.5,1.5,0.8,1.2,1.3,0.6,0.4,0.4,0.5,1.3,1.3,1.4,1.3,1.3,1.3,1.2,1.2,1.2,1.1,1.1,1.0,1.1,0.9,0.6,-0.3,0.1,1.0,0.7,0.4,1.2,1.2,1.0,1.2,1.5,1.3,1.8,1.7,1.6,1.5,1.4,1.5,1.9,1.9,0.3,0.05,0.05,-0.4,0.4];
const nesRow2=[0.4,0.4,0.2,0.2,0.7,0.5,0.0,1.3,1.5,1.5,1.4,0.7,0.7,0.4,0.4,0.5,0.5,0.7,0.7,0.7,0.8,0.9,0.9,1.0,1.1,1.1,1.4,-0.8,-1.0,-1.0,-0.3,0.3,0.3,-0.1,-0.2,-0.4,-0.6,-0.2,-0.1,-0.1,0.0,0.3,0.3,-0.7,-0.7,-1.5,-1.5,-1.5,-1.1,-1.4];
const nesRow3=[-1.0,-1.0,-1.1,-1.1,-1.5,-1.4,-1.4,-1.2,-1.1,-0.5,-0.3,-0.6,-0.6,-0.4,-0.5,-0.4,-0.4,-0.2,-0.7,-0.7,-0.6,-0.7,-0.7,-1.0,-0.6,-0.6,-1.4,-1.4,0.9,1.2,1.3,0.0,0.0,0.3,0.4,0.0,0.6,-0.7,-0.8,-0.2,-0.3,-0.6,-0.6,-0.3,0.0,0.7,1.1,1.1,0.8,0.0];
const nesRow0=[-0.6,-0.6,-0.4,-0.5,-0.1,-0.2,0.05,-0.5,-0.6,-1.1,-1.3,-1.2,-1.2,-1.2,-1.2,-1.1,-1.1,-1.3,-1.0,-1.0,-1.1,-1.0,-1.0,-0.7,-1.2,-1.2,0.8,0.1,-0.8,-0.5,-1.2,-1.3,-1.3,-1.5,-1.3,-1.0,-1.0,-0.5,-0.5,-1.0,-1.0,-0.9,-1.0,-0.3,-0.5,0.7,0.3,0.5,1.2,1.2];

/* ================= PANEL F ================= */
(function(){
const g=grp(svg,'panel-f-hallmark-heatmap');
const X0=54.9,X1=700.3,Y0=1243.7,Y1=1436.7;
const rows=[nesRow1,nesRow2,nesRow3,nesRow0];
const cw=(X1-X0)/pathways.length,rh=(Y1-Y0)/rows.length;
function nes(v){v=Math.max(-2,Math.min(2,v));const w=[250,250,250],r=[192,60,58],b=[52,98,168];const t=Math.abs(v)/2;const c=v>=0?r:b;return 'rgb('+w.map((x,i)=>Math.round(x+(c[i]-x)*t)).join(',')+')';}
rows.forEach((row,ri)=>row.forEach((v,ci)=>{const r=mk(g,'rect',{x:X0+ci*cw,y:Y0+ri*rh,width:cw+0.15,height:rh+0.15,fill:nes(v)});
 
 }));
mk(g,'rect',{x:X0,y:Y0,width:X1-X0,height:Y1-Y0,fill:'none',stroke:'#000','stroke-width':1.2});
pathways.forEach((p,i)=>{const t=mk(g,'text',{x:0,y:0,'font-size':6.2,'font-style':'italic','text-anchor':'end',transform:`translate(${X0+(i+0.5)*cw+2.2},${Y1+3}) rotate(-90)`},p);
 
 });
nesRowLabels.forEach((l,i)=>{const t=mk(g,'text',{x:703,y:Y0+(i+0.5)*rh+2,'font-size':5.5,'font-style':'italic'},l);
 
 });
const dg=grp(g,'column-dendrogram');
let nodes=pathways.map((p,i)=>({x:X0+(i+0.5)*cw,h:Y0}));let lvl=0;
while(nodes.length>1){lvl++;const nn=[];for(let i=0;i<nodes.length;i+=2){if(i+1<nodes.length){const a=nodes[i],b=nodes[i+1];const h=Math.min(a.h,b.h)-(lvl<3?2.5:4.2);
 mk(dg,'path',{d:`M${a.x},${a.h}V${h}H${b.x}V${b.h}`,fill:'none',stroke:'#000','stroke-width':0.8});nn.push({x:(a.x+b.x)/2,h:h});}else nn.push(nodes[i]);}
 nodes=nn;}
const lgd=grp(g,'row-dendrogram');
const rc=i=>Y0+(i+0.5)*rh;
mk(lgd,'path',{d:`M${X0},${rc(0)}H41V${rc(1)}H${X0}`,fill:'none',stroke:'#000','stroke-width':0.9});
mk(lgd,'path',{d:`M${X0},${rc(2)}H44V${rc(3)}H${X0}`,fill:'none',stroke:'#000','stroke-width':0.9});
mk(lgd,'path',{d:`M41,${(rc(0)+rc(1))/2}H33.5V${(rc(2)+rc(3))/2}H44`,fill:'none',stroke:'#000','stroke-width':0.9});
const ht=mk(g,'text',{x:377.5,y:1217,'font-size':6.5,'font-style':'italic','text-anchor':'middle'},'Hallmark Pathways');


const rt=mk(g,'text',{x:0,y:0,'font-size':7.5,'font-weight':'bold','font-style':'italic','text-anchor':'middle',transform:'translate(27.5,1340) rotate(-90)'},'mal_epi Clusters');


const lg=grp(g,'nes-legend');
mk(lg,'text',{x:711,y:1318,'font-size':7,'font-weight':'bold','font-style':'italic'},'NES');
const gd=mk(svg.querySelector('defs'),'linearGradient',{id:'gradNES',x1:0,y1:0,x2:0,y2:1});
[['0','#C03C3A'],['0.5','#FAFAFA'],['1','#3462A8']].forEach(s=>mk(gd,'stop',{offset:s[0],'stop-color':s[1]}));
mk(lg,'rect',{x:711,y:1324,width:6,height:42.5,fill:'url(#gradNES)'});
[['2',1326.5],['1',1336.5],['0',1346],['\u22121',1356],['\u22122',1366]].forEach(s=>mk(lg,'text',{x:718,y:s[1],'font-size':5.5,'font-style':'italic'},s[0]));
})();

/* ================= PANEL G DATA ================= */
const scoreMethods=['AUCell','UCell','singscore','ssgsea','Add','Scoring'];
const gClusters=['0','1','2','3'];
const pctRow0=[100,98.15,98.15,100,100,100];
const pctRow1=[100,99.65,99.7,100,100,100];
const pctRow2=[100,98.95,99.0,100,100,100];
const pctRow3=[100,99.2,99.65,100,100,100];
const avgRow0=[-1.15,-1.35,-0.95,-0.95,-1.15,-1.1];
const avgRow1=[1.25,0.7,1.25,1.25,0.1,1.25];
const avgRow2=[0.0,-0.35,0.05,0.05,-0.45,0.05];
const avgRow3=[-0.35,0.6,-0.6,-0.5,1.2,-0.4];
const pctLegend=[98.5,99.0,99.5,100.0];
const avgLegend=[1.0,0.5,0.0,-0.5,-1.0];

/* ================= PANEL G ================= */
(function(){
const g=grp(svg,'panel-g-dotplot');
const L=808,R=997.7,T=1268.5,B=1487.4;
const xs=i=>826.1+i*30.7;
const ys=c=>1456.5-c*52.33;
const rad=p=>Math.max(0.8,2.2+(p-98.5)/1.5*4.2);
const vir=[[0,[68,1,84]],[0.13,[72,40,120]],[0.25,[62,74,137]],[0.38,[49,104,142]],[0.5,[38,130,142]],[0.63,[31,158,137]],[0.75,[53,183,121]],[0.88,[109,205,89]],[1,[253,231,37]]];
function vcol(v){let t=(1.335-v)/2.66;t=Math.max(0,Math.min(1,t));for(let i=1;i<vir.length;i++){if(t<=vir[i][0]){const a=vir[i-1],b=vir[i],f=(t-a[0])/(b[0]-a[0]);return 'rgb('+a[1].map((x,k)=>Math.round(x+(b[1][k]-x)*f)).join(',')+')';}}return 'rgb(253,231,37)';}
const bg=mk(g,'rect',{x:L,y:T,width:R-L,height:B-T,fill:'#F4F5F9'});


scoreMethods.forEach((m,i)=>mk(g,'line',{x1:xs(i),x2:xs(i),y1:T,y2:B,stroke:'#F8E4EA','stroke-width':0.8,'stroke-dasharray':'4 4'}));
gClusters.forEach((c,j)=>mk(g,'line',{x1:L,x2:R,y1:ys(j),y2:ys(j),stroke:'#F8E4EA','stroke-width':0.8,'stroke-dasharray':'4 4'}));
const pcts=[pctRow0,pctRow1,pctRow2,pctRow3],avgs=[avgRow0,avgRow1,avgRow2,avgRow3];
gClusters.forEach((c,j)=>scoreMethods.forEach((m,i)=>{const d=mk(g,'circle',{cx:xs(i),cy:ys(j),r:rad(pcts[j][i]),fill:vcol(avgs[j][i])});
 
 }));
mk(g,'rect',{x:L,y:T,width:R-L,height:B-T,fill:'none',stroke:'#000','stroke-width':1});
const title=mk(g,'text',{x:903,y:1258,'font-size':12,'font-weight':'bold','font-style':'italic',fill:BROWN,'text-anchor':'middle'},'metabolism');


scoreMethods.forEach((m,i)=>{mk(g,'line',{x1:xs(i),x2:xs(i),y1:B,y2:B+2.5,stroke:'#000','stroke-width':1});
 const t=mk(g,'text',{x:0,y:0,'font-size':10,'font-weight':'bold','font-style':'italic',fill:BROWN,'text-anchor':'end',transform:`translate(${xs(i)+3},${B+6}) rotate(-40)`},m);
 
 });
gClusters.forEach((c,j)=>{mk(g,'line',{x1:L-2.5,x2:L,y1:ys(j),y2:ys(j),stroke:'#000','stroke-width':1});
 const t=mk(g,'text',{x:L-4.5,y:ys(j)+3.5,'font-size':10,'font-weight':'bold','font-style':'italic',fill:BROWN,'text-anchor':'end'},c);
 
 });
const lg=grp(g,'dotplot-legend');
mk(lg,'text',{x:1009,y:1307,'font-size':9.8,'font-weight':'bold','font-style':'italic',fill:BROWN},'Percent Expressed');
pctLegend.forEach((p,i)=>{mk(lg,'circle',{cx:1016.5,cy:[1320.9,1333.3,1346.3,1359.7][i],r:rad(p),fill:'#000'});
mk(lg,'text',{x:1029.5,y:[1320.9,1333.3,1346.3,1359.7][i]+3.5,'font-size':9.5},p.toFixed(1));});
mk(lg,'text',{x:1009,y:1387,'font-size':9.8,'font-weight':'bold','font-style':'italic',fill:BROWN},'Average Expression');
for(let k=0;k<40;k++){const v=1.335-k*2.66/40;mk(lg,'rect',{x:1009.5,y:1394.3+k*62.9/40,width:12.8,height:62.9/40+0.2,fill:vcol(v)});}
avgLegend.forEach(v=>{const y=1394.3+(1.335-v)/2.66*62.9;mk(lg,'line',{x1:1009.5,x2:1012,y1:y,y2:y,stroke:'#fff','stroke-width':0.8});mk(lg,'line',{x1:1019.8,x2:1022.3,y1:y,y2:y,stroke:'#fff','stroke-width':0.8});
mk(lg,'text',{x:1024.5,y:y+3.3,'font-size':9.3},(v<0?'\u2212':'')+Math.abs(v).toFixed(1));});
})();
</script>
</body></html>
